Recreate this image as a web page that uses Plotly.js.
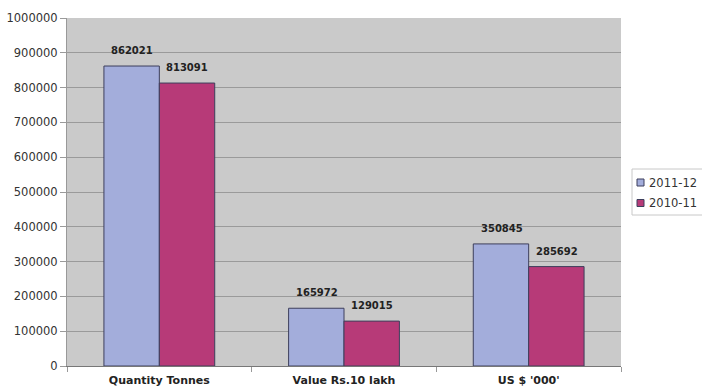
<!DOCTYPE html>
<html>
<head>
<meta charset="utf-8">
<script src="https://cdn.plot.ly/plotly-3.0.1.min.js"></script>
<style>
  html, body { margin: 0; padding: 0; background: #ffffff; }
  #chart { width: 702px; height: 388px; }
</style>
</head>
<body>
<div id="chart"></div>
<script>
// Export figures by measure, two financial years
const categories = ["Quantity Tonnes", "Value Rs.10 lakh", "US $ '000'"];
const series2011 = [862021, 165972, 350845];
const series2010 = [813091, 129015, 285692];
const seriesNames = ["2011-12", "2010-11"];
const yTicks = [0, 100000, 200000, 300000, 400000, 500000, 600000, 700000, 800000, 900000, 1000000];

const W = 702, H = 388;
const M = { l: 67, r: 81, t: 18, b: 22 };
const colors = ["#a3addb", "#b73a78"];
const outline = "#3d3f5c";

const labelFont = { family: "DejaVu Sans", size: 10, color: "#222222", weight: "bold" };
const catFont = { family: "DejaVu Sans", size: 11, color: "#222222", weight: "bold" };

// pixel position in the page -> paper fraction (for the side legend box)
const px = x => (x - M.l) / (W - M.l - M.r);
const py = y => (H - M.b - y) / (H - M.t - M.b);

function barTrace(name, values, color) {
  return {
    type: "bar",
    name: name,
    x: categories,
    y: values,
    marker: { color: color, line: { color: outline, width: 1 } },
    hoverinfo: "none"
  };
}

const allSeries = [series2011, series2010];
const data = allSeries.map((vals, i) => barTrace(seriesNames[i], vals, colors[i]));

// value labels above each bar, shifted to the bar's slot in its group
const annotations = [];
allSeries.forEach((vals, i) => {
  vals.forEach((v, j) => {
    annotations.push({
      x: categories[j], y: v, xref: "x", yref: "y",
      text: String(v), showarrow: false,
      xshift: i === 0 ? -27 : 28, yshift: 8,
      yanchor: "bottom", font: labelFont
    });
  });
});

// side legend: box, swatches and names
const legendRows = [182.5, 203];
const shapes = [{
  type: "rect", xref: "paper", yref: "paper",
  x0: px(632), x1: px(712), y0: py(215), y1: py(169),
  fillcolor: "#ffffff", line: { color: "#c8c8c8", width: 1 }, layer: "above"
}];
seriesNames.forEach((name, i) => {
  const cy = legendRows[i];
  shapes.push({
    type: "rect", xref: "paper", yref: "paper",
    x0: px(637), x1: px(644), y0: py(cy + 3.5), y1: py(cy - 3.5),
    fillcolor: colors[i], line: { color: outline, width: 1 }, layer: "above"
  });
  annotations.push({
    x: px(647), y: py(cy), xref: "paper", yref: "paper",
    xanchor: "left", yanchor: "middle", showarrow: false,
    text: name, font: { family: "DejaVu Sans", size: 11.5, color: "#333333" }
  });
});

const layout = {
  width: W,
  height: H,
  margin: { l: M.l, r: M.r, t: M.t, b: M.b, pad: 0, autoexpand: false },
  paper_bgcolor: "#ffffff",
  plot_bgcolor: "#cacaca",
  barmode: "group",
  bargap: 0.4,
  bargroupgap: 0,
  showlegend: false,
  annotations: annotations,
  shapes: shapes,
  xaxis: {
    type: "category",
    showgrid: false,
    showline: true,
    linecolor: "#777777",
    linewidth: 1,
    ticks: "outside",
    tickson: "boundaries",
    ticklen: 5,
    tickcolor: "#999999",
    ticklabelstandoff: 4,
    tickfont: catFont,
    fixedrange: true
  },
  yaxis: {
    range: [0, 1000000],
    tickvals: yTicks,
    ticktext: yTicks.map(v => String(v)),
    showgrid: true,
    gridcolor: "#9a9a9a",
    gridwidth: 1,
    zeroline: false,
    showline: true,
    linecolor: "#999999",
    ticks: "outside",
    ticklen: 6,
    tickcolor: "#9a9a9a",
    tickfont: { family: "DejaVu Sans", size: 11.5, color: "#333333" },
    fixedrange: true
  }
};

Plotly.newPlot("chart", data, layout, { displayModeBar: false, staticPlot: true });
</script>
</body>
</html>
